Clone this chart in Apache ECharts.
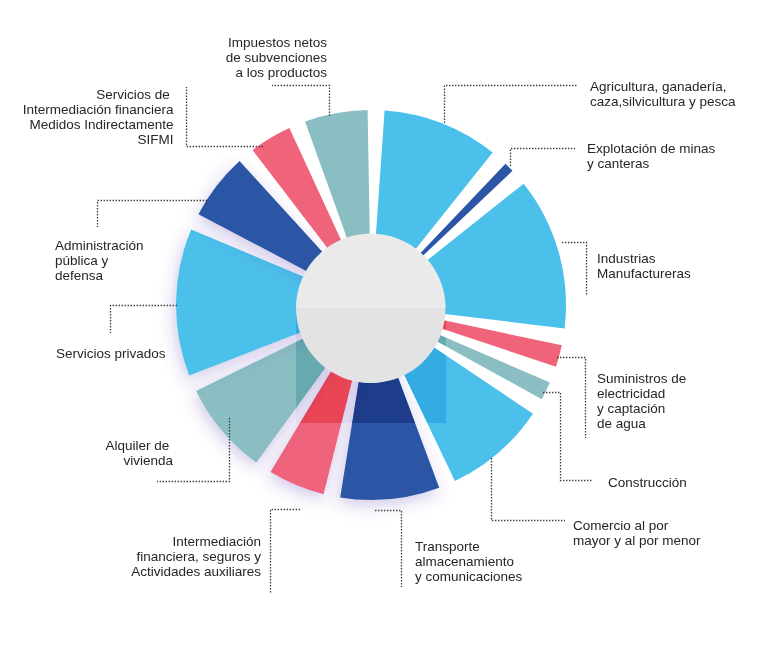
<!DOCTYPE html>
<html>
<head>
<meta charset="utf-8">
<script src="https://cdn.jsdelivr.net/npm/echarts@6/dist/echarts.min.js"></script>
<style>
html,body{margin:0;padding:0;background:#fff;}
#wrap{position:relative;width:764px;height:645px;isolation:isolate;}
#chart{width:764px;height:645px;}
#band{position:absolute;left:296px;top:307.5px;width:150px;height:115px;background:#585858;mix-blend-mode:overlay;pointer-events:none;}
</style>
</head>
<body>
<div id="wrap">
<div id="chart"></div>
<div id="band"></div>
</div>
<script>
// ---- data (clockwise from 12 o'clock) ----
const categories = [
  'Agricultura, ganadería,\ncaza,silvicultura y pesca',
  'Explotación de minas\ny canteras',
  'Industrias\nManufactureras',
  'Suministros de\nelectricidad\ny captación\nde agua',
  'Construcción',
  'Comercio al por\nmayor y al por menor',
  'Transporte\nalmacenamiento\ny comunicaciones',
  'Intermediación\nfinanciera, seguros y\nActividades auxiliares',
  'Alquiler de \nvivienda',
  'Servicios privados',
  'Administración\npública y\ndefensa',
  'Servicios de \nIntermediación financiera\nMedidos Indirectamente\nSIFMI',
  'Impuestos netos\nde subvenciones\na los productos'
];
const shares = [11.0, 2.2, 14.0, 3.2, 2.9, 9.9, 9.6, 6.1, 9.1, 13.6, 6.9, 4.9, 6.6];

// ---- styling / layout (not data) ----
const LB = '#4BC0EA', DB = '#2C56A5', PK = '#EF647B', TL = '#8ABEC3';
const colors = [LB, DB, LB, PK, TL, LB, DB, PK, TL, LB, DB, PK, TL];
const shadowed = [6, 7, 8, 9, 10];

const labelLayout = [
  {x: 590, y: 79, align: 'left', line: [[444.5,123],[444.5,85.5],[577,85.5]]},
  {x: 587, y: 141, align: 'left', line: [[510.5,166],[510.5,148.5],[575,148.5]]},
  {x: 597, y: 251, align: 'left', line: [[562,242.5],[586.5,242.5],[586.5,295]]},
  {x: 597, y: 371, align: 'left', line: [[557,357.5],[585.5,357.5],[585.5,438]]},
  {x: 608, y: 475, align: 'left', line: [[543,392.5],[560.5,392.5],[560.5,480.5],[593,480.5]]},
  {x: 573, y: 517.5, align: 'left', line: [[491.5,458],[491.5,520.5],[565,520.5]]},
  {x: 415, y: 538.5, align: 'left', line: [[375,510.5],[401.5,510.5],[401.5,587]]},
  {x: 261, y: 533.5, align: 'right', line: [[300,509.5],[270.5,509.5],[270.5,593]]},
  {x: 173, y: 438, align: 'right', line: [[229.5,418],[229.5,481.5],[157,481.5]]},
  {x: 56, y: 346, align: 'left', line: [[177,305.5],[110.5,305.5],[110.5,333]]},
  {x: 55, y: 237.5, align: 'left', line: [[207,200.5],[97.5,200.5],[97.5,227]]},
  {x: 173.5, y: 86.5, align: 'right', line: [[263,146.5],[186.5,146.5],[186.5,87]]},
  {x: 327, y: 35, align: 'right', line: [[329.5,116],[329.5,85.5],[272,85.5]]}
];

const chart = echarts.init(document.getElementById('chart'), null, {renderer: 'svg'});

const pieData = shares.map((v, i) => {
  const d = {value: v, name: categories[i], itemStyle: {color: colors[i]}};
  if (shadowed.indexOf(i) >= 0) {
    d.itemStyle.shadowBlur = 16;
    d.itemStyle.shadowColor = 'rgba(80,60,170,0.28)';
    d.itemStyle.shadowOffsetX = -2;
    d.itemStyle.shadowOffsetY = 5;
  }
  return d;
});

const graphics = [];
// central disc
graphics.push({
  type: 'circle', z: 11,
  shape: {cx: 370.8, cy: 308.3, r: 74.8},
  style: {fill: '#EAEAEA'}
});
labelLayout.forEach((l, i) => {
  graphics.push({
    type: 'polyline', z: 12,
    shape: {points: l.line},
    style: {stroke: '#3a3a3a', lineWidth: 1.3, lineDash: [1.4, 1.6], fill: null}
  });
  graphics.push({
    type: 'text', z: 12, x: l.x, y: l.y,
    style: {
      text: categories[i], fill: '#262626',
      font: '13.5px "Liberation Sans", Arial, sans-serif',
      lineHeight: 15, align: l.align, verticalAlign: 'top'
    }
  });
});

chart.setOption({
  backgroundColor: '#ffffff',
  animation: false,
  series: [{
    type: 'pie',
    center: [371, 305],
    radius: [55, 195],
    startAngle: 88.5,
    clockwise: true,
    padAngle: 5,
    label: {show: false},
    labelLine: {show: false},
    emphasis: {disabled: true},
    data: pieData
  }],
  graphic: graphics
});
</script>
</body>
</html>
